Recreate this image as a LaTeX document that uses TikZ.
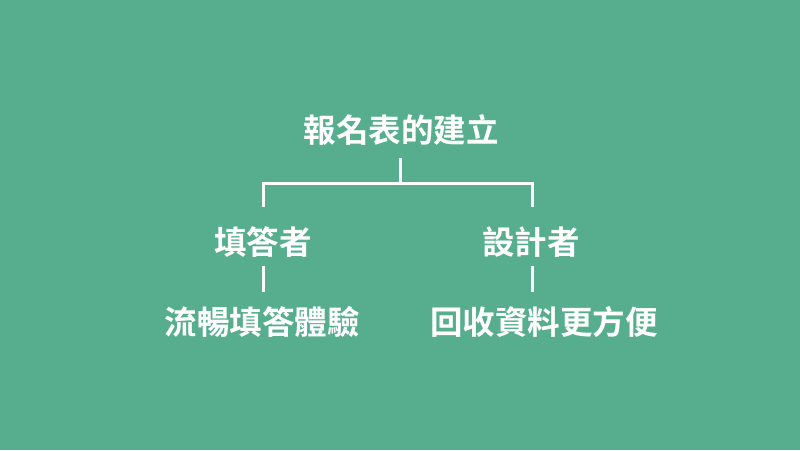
\documentclass[tikz,border=0pt]{standalone}
\usepackage{fontspec}
\newfontfamily\cjk{Noto Sans CJK TC}[BoldFont={* Bold}]
\definecolor{bg}{RGB}{87,174,142}
\begin{document}
\begin{tikzpicture}[x=1pt,y=-1pt,
  lbl/.style={text=white,font=\cjk\bfseries\fontsize{32.5}{33}\selectfont,inner sep=0pt,anchor=center},
  ln/.style={white,line width=3pt}]
\fill[bg] (0,0) rectangle (800,450);
\useasboundingbox (0,0) rectangle (800,450);
\node[lbl] (t) at (401,130) {報名表的建立};
\node[lbl] (a) at (263,242) {填答者};
\node[lbl] (b) at (531,242) {設計者};
\node[lbl] (c) at (262,322) {流暢填答體驗};
\node[lbl] (d) at (544,322) {回收資料更方便};
\coordinate (j) at (400,183);
\draw[ln] (j |- 0,158) -- (j);
\draw[ln] (263,207) -- (263,183) -- (532,183) -- (532,207);
\draw[ln] (263,266) -- (263,292);
\draw[ln] (532,266) -- (532,292);
\end{tikzpicture}
\end{document}
